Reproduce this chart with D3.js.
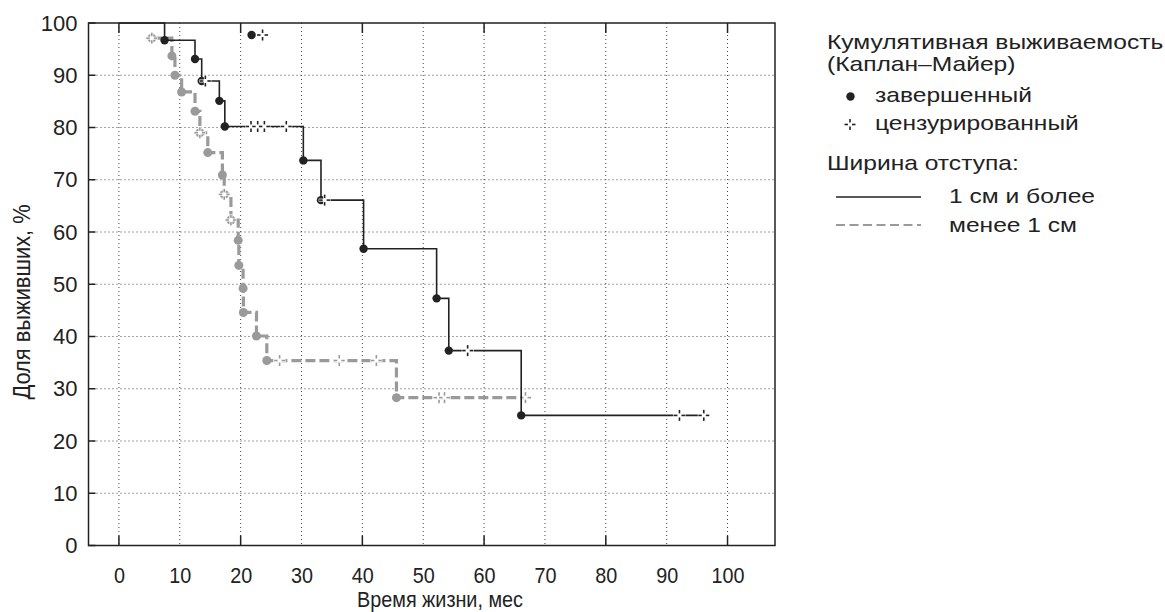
<!DOCTYPE html>
<html>
<head>
<meta charset="utf-8">
<script src="https://cdn.jsdelivr.net/npm/d3@7"></script>
<style>
    body { margin: 0; background: #fff; }
    svg { display: block; }
    .regular { font-family: "Liberation Sans", Arial, Helvetica, sans-serif; }
</style>
</head>
<body>
<div id="chart"></div>
<script>

/**
 * Kaplan-Meier curves, two groups by resection margin width
 */

// group "1 см и более" (black, solid)
var wideStart = [0, 100];
var wideEventTimes = [7.5, 12.5, 13.6, 16.5, 17.4, 30.3, 33.2, 40.2, 52.2, 54.2, 66.1];
var wideEventSurv = [96.7, 93.1, 88.9, 85.1, 80.2, 73.7, 66.1, 56.8, 47.3, 37.3, 24.9];
var wideCensored = [14.2, 21.7, 22.8, 23.9, 27.5, 33.8, 57.3, 92.1, 96.1];
var wideEnd = 96.1;

// group "менее 1 см" (grey, dashed)
var narrowStart = [5.4, 97.1];
var narrowEventTimes = [5.4, 8.7, 9.2, 10.3, 12.5, 13.3, 14.6, 17.0, 17.3, 18.4, 19.6, 19.7, 20.4, 20.45, 22.6, 24.3, 45.6];
var narrowEventSurv = [97.1, 93.7, 90.0, 86.8, 83.1, 79.0, 75.2, 70.9, 67.2, 62.3, 58.4, 53.6, 49.2, 44.6, 40.1, 35.4, 28.3];
var narrowCensored = [5.4, 13.3, 17.3, 18.4, 26.4, 36.2, 42.3, 52.6, 53.5, 66.8];
var narrowEnd = 66.8;

// stray marks near the top of the plot
var strayDot = [21.8, 97.7];
var strayCensored = [23.6, 97.7];

var xTicks = [0, 10, 20, 30, 40, 50, 60, 70, 80, 90, 100];
var yTicks = [0, 10, 20, 30, 40, 50, 60, 70, 80, 90, 100];

var svgWidth = 1165;
var svgHeight = 612;
var plotLeft = 88.5;
var plotRight = 775;
var plotTop = 23;
var plotBottom = 545.5;

var ink = '#222';
var grey = '#9a9a9a';

var svg = d3.select('#chart')
    .append('svg')
    .attr('width', svgWidth)
    .attr('height', svgHeight)
    .attr('class', 'regular');

var x = d3.scaleLinear().domain([-5, 107.8]).range([plotLeft, plotRight]);
var y = d3.scaleLinear().domain([0, 100]).range([plotBottom, plotTop]);

// dotted grid
svg.append('g')
    .selectAll('line')
    .data(xTicks)
    .enter()
    .append('line')
    .attr('x1', function(d) { return x(d); })
    .attr('x2', function(d) { return x(d); })
    .attr('y1', plotTop)
    .attr('y2', plotBottom)
    .attr('stroke', '#444')
    .attr('stroke-width', 1)
    .attr('stroke-dasharray', '1,3');

svg.append('g')
    .selectAll('line')
    .data(yTicks.slice(1, -1))
    .enter()
    .append('line')
    .attr('x1', plotLeft)
    .attr('x2', plotRight)
    .attr('y1', function(d) { return y(d); })
    .attr('y2', function(d) { return y(d); })
    .attr('stroke', '#444')
    .attr('stroke-width', 1)
    .attr('stroke-dasharray', '1,3');

// axes (labels only, ticks drawn inward below)
var xAxis = d3.axisBottom(x).tickValues(xTicks).tickSize(0).tickPadding(22);
var gx = svg.append('g')
    .attr('transform', 'translate(0,' + plotBottom + ')')
    .call(xAxis);
gx.select('.domain').remove();
gx.selectAll('text')
    .attr('font-size', 22.5)
    .attr('fill', ink)
    .attr('font-family', null)
    .attr('transform', 'scale(0.88,1)');

var yAxis = d3.axisLeft(y).tickValues(yTicks).tickSize(0).tickPadding(11);
var gy = svg.append('g')
    .attr('transform', 'translate(' + plotLeft + ',0)')
    .call(yAxis);
gy.select('.domain').remove();
gy.selectAll('text').attr('font-size', 22).attr('fill', ink).attr('font-family', null);

// inward tick marks
svg.append('g')
    .selectAll('line')
    .data(yTicks)
    .enter()
    .append('line')
    .attr('x1', plotLeft)
    .attr('x2', plotLeft + 7)
    .attr('y1', function(d) { return y(d); })
    .attr('y2', function(d) { return y(d); })
    .attr('stroke', ink)
    .attr('stroke-width', 1.5);

var evenTicks = xTicks.filter(function(d) { return d % 20 === 0; });
svg.append('g')
    .selectAll('line')
    .data(evenTicks)
    .enter()
    .append('line')
    .attr('x1', function(d) { return x(d); })
    .attr('x2', function(d) { return x(d); })
    .attr('y1', plotBottom)
    .attr('y2', plotBottom - 10)
    .attr('stroke', ink)
    .attr('stroke-width', 1.5);
svg.append('g')
    .selectAll('line')
    .data(evenTicks)
    .enter()
    .append('line')
    .attr('x1', function(d) { return x(d); })
    .attr('x2', function(d) { return x(d); })
    .attr('y1', plotTop)
    .attr('y2', plotTop + 10)
    .attr('stroke', ink)
    .attr('stroke-width', 1.5);

// frame
svg.append('rect')
    .attr('x', plotLeft)
    .attr('y', plotTop)
    .attr('width', plotRight - plotLeft)
    .attr('height', plotBottom - plotTop)
    .attr('fill', 'none')
    .attr('stroke', ink)
    .attr('stroke-width', 1.5);

// axis titles
svg.append('g')
    .attr('transform', 'translate(440,607)')
    .append('text')
    .attr('transform', 'scale(0.9,1)')
    .attr('text-anchor', 'middle')
    .attr('font-size', 22)
    .attr('fill', ink)
    .text('Время жизни, мес');

svg.append('g')
    .attr('transform', 'translate(30,302) rotate(-90)')
    .append('text')
    .attr('transform', 'scale(0.95,1)')
    .attr('text-anchor', 'middle')
    .attr('font-size', 23)
    .attr('fill', ink)
    .text('Доля выживших, %');

// step curves
function stepPoints(start, times, surv, end) {
    var pts = [start];
    for (var i = 0; i < times.length; i++) {
        pts.push([times[i], surv[i]]);
    }
    pts.push([end, surv[surv.length - 1]]);
    return pts;
}

function survAt(start, times, surv, t) {
    var s = start[1];
    for (var i = 0; i < times.length; i++) {
        if (times[i] <= t) { s = surv[i]; }
    }
    return s;
}

var line = d3.line()
    .x(function(d) { return x(d[0]); })
    .y(function(d) { return y(d[1]); })
    .curve(d3.curveStepAfter);

function drawCensor(g, cx, cy, color) {
    g.append('line')
        .attr('x1', cx - 6).attr('x2', cx + 6).attr('y1', cy).attr('y2', cy)
        .attr('stroke', '#fff').attr('stroke-width', 3);
    g.append('line')
        .attr('x1', cx).attr('x2', cx).attr('y1', cy - 6).attr('y2', cy + 6)
        .attr('stroke', '#fff').attr('stroke-width', 3);
    var segs = [[-5.5, 0, -2, 0], [2, 0, 5.5, 0], [0, -5.5, 0, -2], [0, 2, 0, 5.5]];
    segs.forEach(function(s) {
        g.append('line')
            .attr('x1', cx + s[0]).attr('y1', cy + s[1])
            .attr('x2', cx + s[2]).attr('y2', cy + s[3])
            .attr('stroke', color).attr('stroke-width', 1.6);
    });
}

function drawGroup(start, times, surv, censored, end, color, width, dash, r) {
    var g = svg.append('g');
    g.append('path')
        .datum(stepPoints(start, times, surv, end))
        .attr('d', line)
        .attr('fill', 'none')
        .attr('stroke', color)
        .attr('stroke-width', width)
        .attr('stroke-dasharray', dash);
    g.selectAll('circle')
        .data(times.map(function(t, i) { return [t, surv[i]]; }))
        .enter()
        .append('circle')
        .attr('cx', function(d) { return x(d[0]); })
        .attr('cy', function(d) { return y(d[1]); })
        .attr('r', r)
        .attr('fill', color);
    censored.forEach(function(t) {
        drawCensor(g, x(t), y(survAt(start, times, surv, t)), color);
    });
    return g;
}

drawGroup(narrowStart, narrowEventTimes, narrowEventSurv, narrowCensored, narrowEnd, grey, 3.2, '10,4', 4.5);
drawGroup(wideStart, wideEventTimes, wideEventSurv, wideCensored, wideEnd, ink, 1.6, null, 4.2);

svg.append('circle')
    .attr('cx', x(strayDot[0]))
    .attr('cy', y(strayDot[1]))
    .attr('r', 4.2)
    .attr('fill', ink);
drawCensor(svg.append('g'), x(strayCensored[0]), y(strayCensored[1]), ink);

// legend (the source font is wider than Liberation Sans, so stretch it)
var legend = svg.append('g');

function legendText(tx, ty, str) {
    legend.append('g')
        .attr('transform', 'translate(' + tx + ',' + ty + ')')
        .append('text')
        .attr('transform', 'scale(1.2,1)')
        .attr('font-size', 20.5)
        .attr('fill', ink)
        .text(str);
}

legendText(827, 49, 'Кумулятивная выживаемость');
legendText(827, 71, '(Каплан–Майер)');

legend.append('circle').attr('cx', 850.5).attr('cy', 96.5).attr('r', 4.2).attr('fill', ink);
legendText(875, 102, 'завершенный');

drawCensor(legend.append('g'), 850, 124.5, ink);
legendText(875, 130, 'цензурированный');

legendText(827, 170, 'Ширина отступа:');

legend.append('line')
    .attr('x1', 836).attr('x2', 921).attr('y1', 197).attr('y2', 197)
    .attr('stroke', ink).attr('stroke-width', 1.6);
legendText(949, 203, '1 см и более');

legend.append('line')
    .attr('x1', 836).attr('x2', 921).attr('y1', 225).attr('y2', 225)
    .attr('stroke', grey).attr('stroke-width', 2.2).attr('stroke-dasharray', '9,4.5');
legendText(949, 232, 'менее 1 см');

</script>
</body>
</html>
